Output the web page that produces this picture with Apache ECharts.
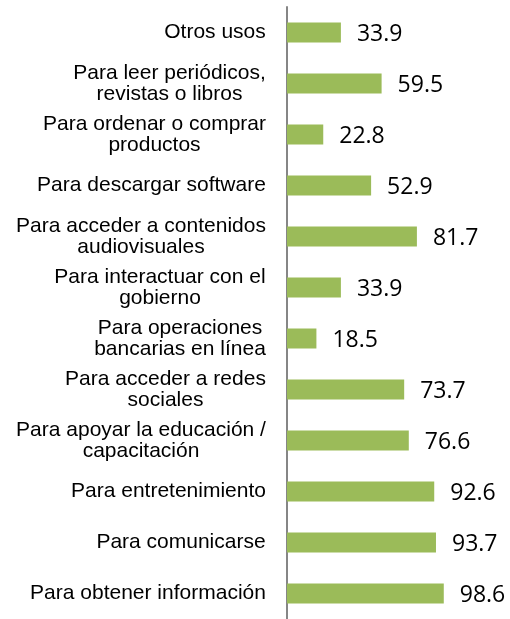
<!DOCTYPE html>
<html>
<head>
<meta charset="utf-8">
<script src="https://cdn.jsdelivr.net/npm/echarts@6/dist/echarts.min.js"></script>
<style>
  html, body { margin: 0; padding: 0; background: #fff; }
  #chart { width: 510px; height: 619px; }
</style>
</head>
<body>
<div id="chart"></div>
<script>
// categorías, de arriba hacia abajo
const categories = [
  'Otros usos',
  'Para leer periódicos,\nrevistas o libros',
  'Para ordenar o comprar\nproductos',
  'Para descargar software',
  'Para acceder a contenidos\naudiovisuales',
  'Para interactuar con el\ngobierno',
  'Para operaciones\nbancarias en línea',
  'Para acceder a redes\nsociales',
  'Para apoyar la educación /\ncapacitación',
  'Para entretenimiento',
  'Para comunicarse',
  'Para obtener información'
]
const values = [33.9, 59.5, 22.8, 52.9, 81.7, 33.9, 18.5, 73.7, 76.6, 92.6, 93.7, 98.6]

const labelFont = '21px "Liberation Sans"'
const ctx = document.createElement('canvas').getContext('2d')
ctx.font = labelFont

// un estilo rich por etiqueta: ancho = línea más larga, líneas centradas
const rich = {}
categories.forEach((c, i) => {
  const w = Math.max(...c.split('\n').map(s => ctx.measureText(s).width))
  rich['c' + i] = {
    width: Math.ceil(w),
    align: 'center',
    fontFamily: 'Liberation Sans',
    fontSize: 21,
    lineHeight: 21,
    color: '#000'
  }
})

const myChart = echarts.init(document.getElementById('chart'))
const option = {
  animation: false,
  grid: {
    left: 287,
    right: 64,
    top: 7,
    height: 617
  },
  xAxis: {
    type: 'value',
    min: 0,
    max: 100,
    show: false
  },
  yAxis: {
    type: 'category',
    inverse: true,
    data: categories,
    axisTick: { show: false },
    axisLine: {
      lineStyle: { color: '#868686', width: 2 }
    },
    axisLabel: {
      margin: 21,
      align: 'right',
      formatter: (val, idx) => val.split('\n').map(s => '{c' + idx + '|' + s + '}').join('\n'),
      rich: rich
    }
  },
  series: [{
    type: 'bar',
    data: values,
    barWidth: 20,
    itemStyle: { color: '#9BBB59' },
    label: {
      show: true,
      position: 'right',
      distance: 16,
      offset: [0, 2],
      fontFamily: 'Open Sans',
      fontSize: 23,
      color: '#000',
      formatter: (p) => p.value.toFixed(1)
    }
  }]
}
myChart.setOption(option)
</script>
</body>
</html>
